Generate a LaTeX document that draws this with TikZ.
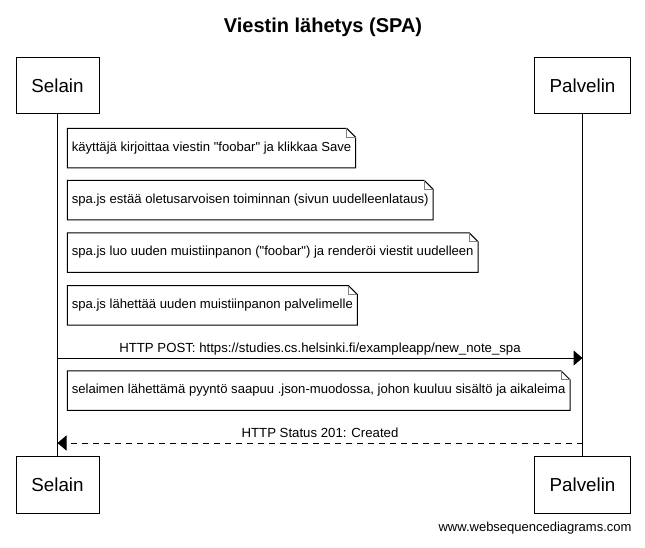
\documentclass[tikz,border=0pt]{standalone}
\usepackage{fontspec}
\setmainfont{Liberation Sans}
\usetikzlibrary{arrows.meta}

\begin{document}
\begin{tikzpicture}[x = 1pt, y = -1pt, line width = 1pt,
	> = {Triangle[length = 9pt, width = 15pt]},
	actor/.style = {draw, minimum height = 56.7pt, inner sep = 0pt, font = \fontsize{18.8}{22}\selectfont},
	note/.style = {minimum height = 38.5pt, inner xsep = 4pt, inner ysep = 0pt, anchor = north west, font = \fontsize{13.1}{16}\selectfont},
	msglabel/.style = {anchor = base, yshift = 6pt, font = \fontsize{13.2}{16}\selectfont}]

	% Definitions

	\def\xS{57.5}		% Selain lifeline
	\def\xP{582.5}		% Palvelin lifeline
	\def\f{9pt}			% Size of the folded note corner
	\def\q{\textquotedbl}	% Straight double quote

	\useasboundingbox (0, 0) rectangle (645, 547);

	% Title

	\node [anchor = base, font = \bfseries\fontsize{20}{24}\selectfont] (title) at (323, 32) {Viestin lähetys (SPA)};

	% Actors, top and bottom, with lifelines

	\foreach \s/\y in {Top/85.6, Bot/484.7} {
		\node [actor, minimum width = 83pt] (sel\s) at (\xS, \y) {Selain};
		\node [actor, minimum width = 96pt] (pal\s) at (\xP, \y) {Palvelin};
	}
	\draw (selTop) -- (selBot);
	\draw (palTop) -- (palBot);

	% Notes, with folded corner

	\foreach \n/\y/\txt in {1/128.3/{käyttäjä kirjoittaa viestin \q foobar\q{} ja klikkaa Save},
			2/180.3/{spa.js estää oletusarvoisen toiminnan (sivun uudelleenlataus)},
			3/232.8/{spa.js luo uuden muistiinpanon (\q foobar\q) ja renderöi viestit uudelleen},
			4/285.5/{spa.js lähettää uuden muistiinpanon palvelimelle},
			5/370.8/{selaimen lähettämä pyyntö saapuu .json-muodossa, johon kuuluu sisältö ja aikaleima}} {
		\node [note] (n\n) at (67.3, \y) {\txt};
		\draw (n\n.south west) -- (n\n.north west) -- ([xshift = -\f] n\n.north east)
			-- ([yshift = -\f] n\n.north east) -- (n\n.south east) -- cycle;
		\draw [gray, line width = 0.8pt] ([xshift = -\f] n\n.north east) |- ([yshift = -\f] n\n.north east);
	}

	% Messages

	\coordinate (postS) at (selTop.south |- 0,358);
	\coordinate (postP) at (palTop.south |- 0,358);
	\coordinate (statS) at (selTop.south |- 0,443);
	\coordinate (statP) at (palTop.south |- 0,443);

	\draw [->] (postS) -- node [msglabel] {HTTP POST: https://studies.cs.helsinki.fi/exampleapp/new\_note\_spa} (postP);
	\draw [->, dash pattern = on 6pt off 5pt] (statP) -- node [msglabel] {HTTP Status 201: Created} (statS);

	% Credit

	\node [anchor = base east, inner sep = 0pt, font = \fontsize{13}{16}\selectfont] (credit) at (632, 531) {www.websequencediagrams.com};

\end{tikzpicture}
\end{document}
